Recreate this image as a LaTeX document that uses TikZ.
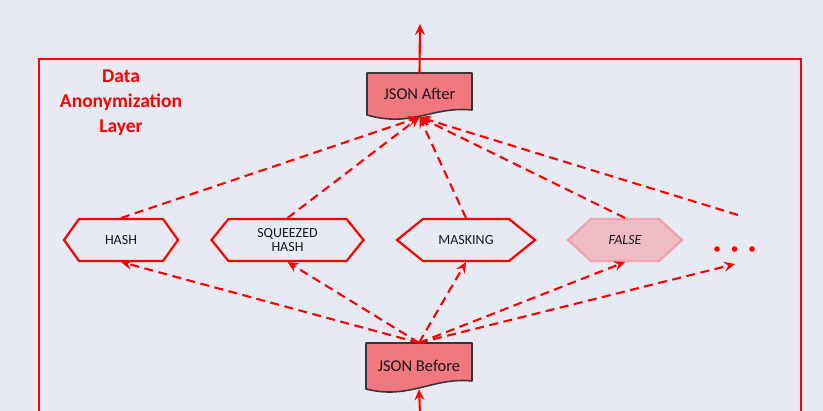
\documentclass[tikz,border=0pt]{standalone}
\usepackage{fontspec}
\setmainfont{Carlito}
\usetikzlibrary{arrows.meta,calc}
\definecolor{bgcol}{RGB}{231,234,242}
\definecolor{docfill}{RGB}{240,120,126}
\definecolor{docline}{RGB}{58,54,56}
\definecolor{pinkfill}{RGB}{238,188,196}
\definecolor{pinkline}{RGB}{242,162,172}
\definecolor{txtdark}{RGB}{24,24,30}

% hexagon with a label: name, x, y, half width, indent, frame style, label style, text
\newcommand\hexnode[8]{%
  \path[#6] (#2-#4,#3) -- (#2-#4+#5,#3-21) -- (#2+#4-#5,#3-21) -- (#2+#4,#3)
    -- (#2+#4-#5,#3+21) -- (#2-#4+#5,#3+21) -- cycle;
  \node[#7] (#1) at (#2,#3) {#8};
  \coordinate (#1-t) at (#2,#3-22);
  \coordinate (#1-b) at (#2,#3+22);
}

\begin{document}
\begin{tikzpicture}[x=1pt,y=-1pt,
  tip/.style={-{Stealth[length=11pt,width=10pt,inset=4pt]}},
  flow/.style={draw=red, line width=2.1pt, dash pattern=on 9pt off 5.5pt, tip},
  solidflow/.style={draw=red, line width=2.1pt, tip},
  doc/.style={fill=docfill, draw=docline, line width=1.6pt, line join=round},
  doclabel/.style={minimum width=105pt, inner sep=0pt, text=txtdark,
    font=\fontsize{16.5}{18}\selectfont},
  hexframe/.style={draw=red, line width=2.2pt, line join=miter},
  hexfaded/.style={fill=pinkfill, draw=pinkline, line width=2.2pt, line join=miter},
  hexlabel/.style={text=txtdark, font=\fontsize{14}{14.5}\selectfont, align=center, inner sep=0pt},
  title/.style={text=red, align=center, font=\bfseries\fontsize{19.5}{25}\selectfont}]

% canvas
\fill[bgcol] (0,0) rectangle (823,411);
\useasboundingbox (0,0) rectangle (823,411);

% layer frame (open at the bottom)
\draw[red, line width=2.4pt] (39,413) -- (39,59) -- (801,59) -- (801,413);
\node[title] (layer) at (121,103) {Data\\Anonymization\\Layer};

% documents
\path[doc] (367,73) -- (472,73) -- (472,110) .. controls (432,106) and (412,128) .. (367,115) -- cycle;
\node[doclabel, minimum height=44pt] (after) at (419.5,95) {\raisebox{2pt}{JSON After}};
\path[doc] (366,343) -- (472,343) -- (472,381) .. controls (432,377) and (410,400) .. (366,389) -- cycle;
\node[doclabel, minimum height=46pt] (before) at (419,366) {\raisebox{1pt}{JSON Before}};

% transformations
\hexnode{hash}{121}{240}{57}{15}{hexframe}{hexlabel}{HASH}
\hexnode{sqz}{287.5}{240}{76}{17}{hexframe}{hexlabel}{SQUEEZED\\HASH}
\hexnode{mask}{466}{240}{69}{26}{hexframe}{hexlabel}{MASKING}
\hexnode{fals}{625}{240}{57}{23}{hexfaded}{hexlabel}{\itshape FALSE}

% further transformations
\coordinate (more) at (735,249);
\coordinate (more-t) at (738,215);
\coordinate (more-b) at (735,264);
\foreach \dx in {717,734.5,752} \fill[red] (\dx,249) circle (2.8pt);

% in and out of the layer
\coordinate (inlet) at (420,413);
\coordinate (outlet) at (420,24);
\draw[solidflow] (inlet) -- (before.south);
\draw[solidflow] (after.north) -- (outlet);

% fan out
\foreach \t in {hash,sqz,mask,fals,more}
  \draw[flow] (before.north) -- (\t-b);
% fan in
\foreach \t in {hash,sqz,mask,fals,more}
  \draw[flow] (\t-t) -- (after.south);
\end{tikzpicture}
\end{document}
